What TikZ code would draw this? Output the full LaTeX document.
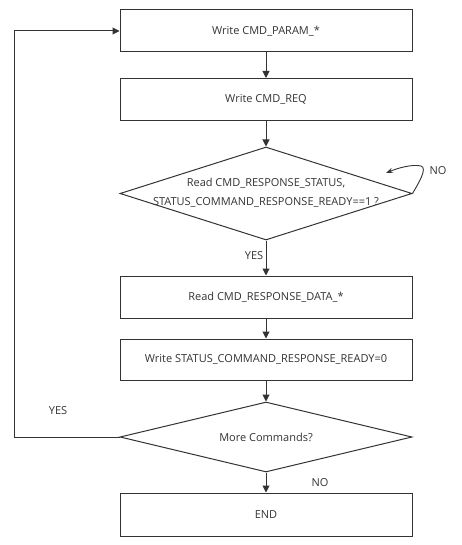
\documentclass[tikz,border=0pt]{standalone}
\usepackage{fontspec}
\setmainfont{Open Sans}
\usetikzlibrary{shapes.geometric,arrows.meta}
\definecolor{ln}{HTML}{333333}
\definecolor{tx}{HTML}{333333}
\tikzset{
  stepbox/.style={draw=ln, line width=1pt, minimum width=292pt, minimum height=42pt, inner sep=0pt},
  decision/.style={draw=ln, line width=1pt, diamond, minimum width=292pt, inner sep=0pt},
  txt/.style={text=tx, font=\fontsize{11}{18.5}\selectfont, align=center},
  lbl/.style={text=tx, font=\fontsize{11}{12}\selectfont},
  flow/.style={draw=ln, line width=1pt, -{Triangle[width=7pt,length=7pt]}},
  loop/.style={draw=ln, line width=0.9pt, -{Stealth[width=5pt,length=7pt]}}
}
\begin{document}
\begin{tikzpicture}[x=1pt,y=-1pt]
\useasboundingbox (0,0) rectangle (461,545);
\node[stepbox] (b1) at (266,31) {};
\node[txt] at (b1) {Write CMD\_PARAM\_*};
\node[stepbox] (b2) at (266,99.5) {};
\node[txt] at (b2) {Write CMD\_REQ};
\node[decision, minimum height=93pt] (d1) at (266,193.5) {};
\node[txt] at (266,192.5) {Read CMD\_RESPONSE\_STATUS,\\STATUS\_COMMAND\_RESPONSE\_READY==1 ?};
\node[stepbox] (b3) at (266,297) {};
\node[txt] at (b3) {Read CMD\_RESPONSE\_DATA\_*};
\node[stepbox, minimum height=41pt] (b4) at (266,359.5) {};
\node[txt] at (b4) {Write STATUS\_COMMAND\_RESPONSE\_READY=0};
\node[decision, minimum height=70pt] (d2) at (266,437) {};
\node[txt] at (d2) {More Commands?};
\node[stepbox, minimum height=43pt] (e) at (266,514.5) {};
\node[txt] at (e) {END};

\draw[flow] (b1) -- (b2);
\draw[flow] (b2) -- (d1);
\draw[flow] (d1) -- (b3);
\draw[flow] (b3) -- (b4);
\draw[flow] (b4) -- (d2);
\draw[flow] (d2) -- (e);

\coordinate (lb) at (14,437);
\coordinate (lt) at (14,31);
\draw[flow] (d2.west) -- (lb) -- (lt) -- (b1.west);

\coordinate (nt) at (386,173);
\draw[loop] (d1.east) .. controls (418,184) and (428,168) .. (421,166) .. controls (412,164) and (398,168) .. (nt);

\node[lbl] (ny) at (254,256) {YES};
\node[lbl] (nn) at (438,171) {NO};
\node[lbl] (ly) at (58,411) {YES};
\node[lbl] (ln2) at (320,483) {NO};
\end{tikzpicture}
\end{document}
